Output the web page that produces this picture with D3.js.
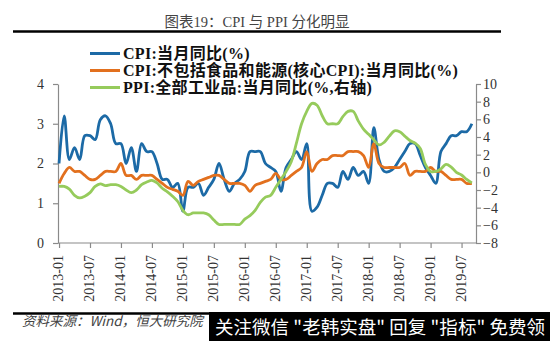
<!DOCTYPE html>
<html><head><meta charset="utf-8">
<script src="https://cdn.jsdelivr.net/npm/d3@7"></script>
<style>body{margin:0;background:#fff}svg{display:block}</style>
</head><body><svg id="c" width="550" height="341"></svg>
<script>
const tickLabels = ["2013-01","2013-07","2014-01","2014-07","2015-01","2015-07","2016-01","2016-07","2017-01","2017-07","2018-01","2018-07","2019-01","2019-07"];
const leftTicks = [0,1,2,3,4];
const rightTicks = [-8,-6,-4,-2,0,2,4,6,8,10];
// monthly, 2013-01 .. 2019-09
const cpi = [2.0,3.2,2.1,2.4,2.1,2.7,2.7,2.6,3.1,3.2,3.0,2.5,
  2.5,2.0,2.4,1.8,2.5,2.3,2.3,2.0,1.6,1.6,1.4,1.5,
  0.8,1.4,1.4,1.5,1.2,1.4,1.6,2.0,1.6,1.3,1.5,1.6,
  1.8,2.3,2.3,2.3,2.0,1.9,1.8,1.3,1.9,2.1,2.3,2.1,
  2.5,0.8,0.9,1.2,1.5,1.5,1.4,1.8,1.6,1.9,1.7,1.8,
  1.5,2.9,2.1,1.8,1.8,1.9,2.1,2.3,2.5,2.5,2.2,1.9,
  1.7,1.5,2.3,2.5,2.7,2.7,2.8,2.8,3.0];
const coreCpi = [1.5,1.75,1.9,1.8,1.8,1.7,1.6,1.6,1.7,1.8,1.8,1.8,
  2.0,1.7,1.7,1.6,1.7,1.7,1.7,1.6,1.5,1.4,1.35,1.3,
  1.2,1.55,1.45,1.55,1.6,1.65,1.7,1.7,1.6,1.5,1.5,1.5,
  1.45,1.3,1.45,1.5,1.55,1.6,1.75,1.6,1.6,1.7,1.8,1.9,
  2.3,1.8,2.0,2.1,2.1,2.2,2.2,2.2,2.3,2.3,2.3,2.2,
  1.9,2.5,2.0,1.9,1.9,1.9,1.9,2.0,1.7,1.8,1.8,1.8,
  1.9,1.8,1.8,1.7,1.6,1.6,1.6,1.5,1.5];
const ppi = [-1.6,-1.6,-1.9,-2.6,-2.9,-2.7,-2.3,-1.6,-1.3,-1.5,-1.4,-1.4,
  -1.6,-2.0,-2.3,-2.0,-1.4,-1.1,-0.9,-1.2,-1.8,-2.2,-2.7,-3.3,
  -4.3,-4.8,-4.6,-4.6,-4.6,-4.8,-5.4,-5.9,-5.9,-5.9,-5.9,-5.9,
  -5.3,-4.9,-4.3,-3.4,-2.8,-2.6,-1.7,-0.8,0.1,1.2,3.3,5.5,
  6.9,7.8,7.6,6.4,5.5,5.5,5.5,6.3,6.9,6.9,5.8,4.9,
  4.3,3.7,3.1,3.4,4.1,4.7,4.6,4.1,3.6,3.3,2.7,0.9,
  0.1,0.1,0.4,0.9,0.6,0.0,-0.3,-0.8,-1.2];
const legendLabels = ["CPI:当月同比(%)","CPI:不包括食品和能源(核心CPI):当月同比(%)","PPI:全部工业品:当月同比(%,右轴)"];
const colors = ["#1c6aa6","#e2701e","#96cb5c"];

const svg = d3.select("#c");
const serif = "'Liberation Serif','Noto Sans CJK SC',serif";
const cjk = "'Noto Sans CJK SC',sans-serif";

// title
svg.append("text").attr("x",257).attr("y",27).attr("text-anchor","middle")
  .attr("font-family","'Liberation Serif','Noto Sans CJK SC'").attr("font-size",14.5).attr("fill","#444")
  .text("图表19：CPI 与 PPI 分化明显");
svg.append("line").attr("x1",13).attr("x2",501).attr("y1",31.5).attr("y2",31.5).attr("stroke","#000").attr("stroke-width",2.5);

const x = d3.scaleLinear().domain([-0.2, 80.8]).range([58, 476]);
const yL = d3.scaleLinear().domain([0,4]).range([243,84]);
const yR = d3.scaleLinear().domain([-8,10]).range([243,84]);

const axisColor = "#8a8a8a";
function styleAxis(g){
  g.select(".domain").attr("stroke",axisColor).attr("stroke-width",1.2);
  g.selectAll(".tick line").attr("stroke",axisColor).attr("stroke-width",1.2);
  g.selectAll("text").attr("font-family",serif).attr("font-size",14).attr("fill","#333");
}
const gL = svg.append("g").attr("transform","translate(58,0)")
  .call(d3.axisLeft(yL).tickValues(leftTicks).tickSize(5).tickSizeOuter(0).tickPadding(9).tickFormat(d3.format("d")));
styleAxis(gL);
const gR = svg.append("g").attr("transform","translate(476,0)")
  .call(d3.axisRight(yR).tickValues(rightTicks).tickSize(5).tickSizeOuter(0).tickPadding(2).tickFormat(d3.format("d")));
styleAxis(gR);
const gB = svg.append("g").attr("transform","translate(0,243)")
  .call(d3.axisBottom(x).tickValues(tickLabels.map((t,i)=>i*6)).tickSize(5).tickSizeOuter(0).tickFormat((d,i)=>tickLabels[i]));
styleAxis(gB);
gB.select(".domain").attr("d","M58,0H476");
gB.selectAll("text").attr("transform","rotate(-90)").attr("text-anchor","end")
  .attr("x",-12).attr("y",-1).attr("dy","0.32em").attr("font-size",14);

// lines
const mk = (scale) => d3.line().x((d,i)=>x(i)).y(d=>scale(d)).curve(d3.curveCatmullRom.alpha(0.5));
const series = [[cpi,yL],[coreCpi,yL],[ppi,yR]];
series.forEach(([data,scale],k)=>{
  svg.append("path").datum(data).attr("d",mk(scale)).attr("fill","none")
    .attr("stroke",colors[k]).attr("stroke-width",2.8).attr("stroke-linejoin","round");
});

// legend
const legY = [53.5,70.5,87.5];
legendLabels.forEach((t,k)=>{
  svg.append("line").attr("x1",90).attr("x2",120).attr("y1",legY[k]).attr("y2",legY[k])
    .attr("stroke",colors[k]).attr("stroke-width",3);
  svg.append("text").attr("x",123).attr("y",legY[k]+5.5).attr("font-family",serif)
    .attr("font-weight","bold").attr("font-size",16).attr("letter-spacing",0.3).attr("fill","#111").text(t);
});

// footer
svg.append("line").attr("x1",13).attr("x2",215).attr("y1",313.5).attr("y2",313.5).attr("stroke","#000").attr("stroke-width",2.5);
svg.append("text").attr("x",22).attr("y",326).attr("font-family",cjk).attr("font-style","italic")
  .attr("font-size",13.5).attr("fill","#444").text("资料来源：Wind，恒大研究院");
svg.append("rect").attr("x",209).attr("y",312).attr("width",341).attr("height",29).attr("fill","#000");
svg.append("text").attr("x",215).attr("y",333.5).attr("font-family",cjk).attr("font-size",18.5)
  .attr("fill","#fff").attr("textLength",330).attr("lengthAdjust","spacing")
  .text("关注微信 \"老韩实盘\" 回复 \"指标\" 免费领");
</script></body></html>
